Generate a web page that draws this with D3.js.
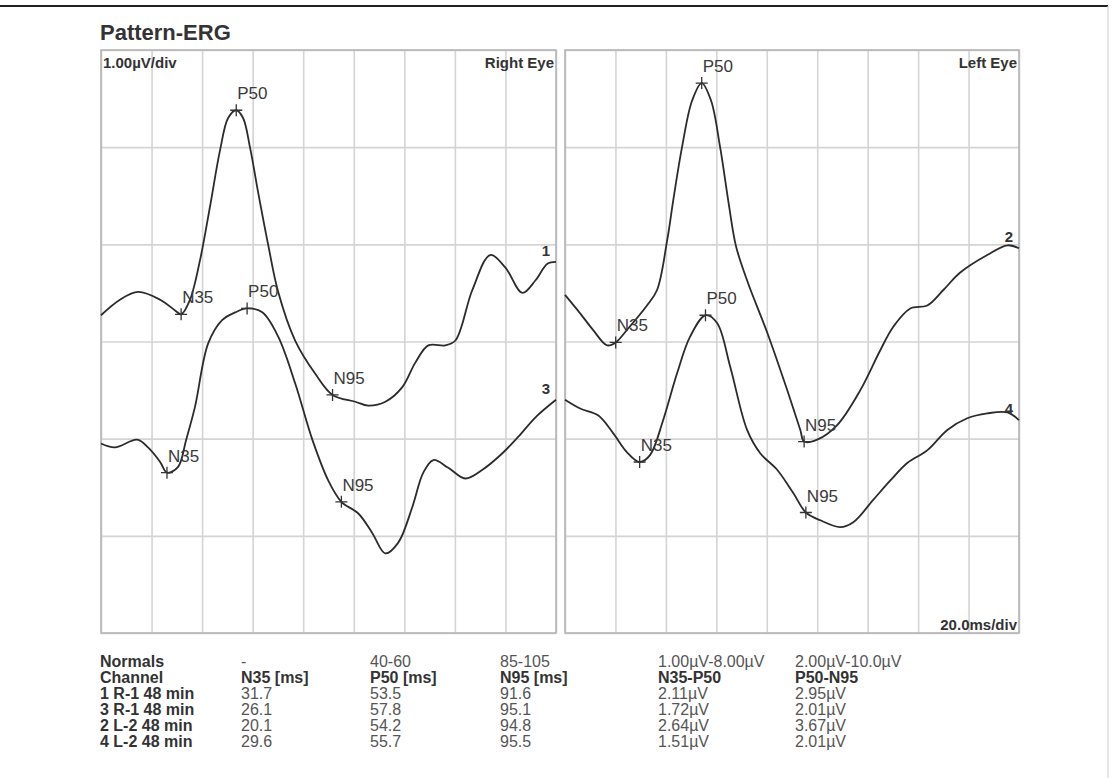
<!DOCTYPE html>
<html>
<head>
<meta charset="utf-8">
<script src="https://cdn.jsdelivr.net/npm/d3@7"></script>
<style>
  body { margin: 0; background: #fff; }
  text { font-family: "Liberation Sans", Arial, sans-serif; fill: #333; }
</style>
</head>
<body>
<div id="erg"></div>
<script>
// time axis 0-180 ms (20 ms/div), amplitude 0-6 uV (1 uV/div)
var msTicks = [0, 20, 40, 60, 80, 100, 120, 140, 160, 180];
var uvTicks = [0, 1, 2, 3, 4, 5, 6];

// traces: [ms, uV]
var trace1 = [[0,3.27],[7.5,3.43],[14.7,3.51],[23.4,3.43],[29.3,3.32],[31.7,3.28],[35.2,3.43],[39.2,3.84],[43.2,4.40],[47.1,4.97],[50.3,5.30],[53.5,5.38],[56.2,5.30],[59.0,4.99],[62.2,4.53],[66.1,4.00],[70.0,3.52],[76.8,3.01],[84.7,2.67],[91.6,2.45],[100.6,2.38],[105.7,2.34],[112.5,2.38],[119.2,2.53],[124.3,2.78],[129.5,2.96],[136.2,2.96],[140.2,3.01],[146.9,3.53],[154.0,3.89],[160.0,3.76],[166.7,3.50],[171.9,3.63],[176.6,3.80],[180,3.82]];
var trace3 = [[0,1.95],[5.5,1.91],[14.3,1.99],[18.6,1.91],[23.4,1.76],[26.1,1.65],[30.5,1.71],[33.7,1.99],[37.2,2.33],[42.4,2.98],[47.9,3.22],[53.1,3.30],[57.8,3.34],[63.8,3.30],[70.1,3.05],[76.8,2.57],[83.6,1.99],[89.9,1.57],[95.1,1.35],[101.8,1.23],[107.3,1.03],[112.5,0.82],[117.6,0.93],[123.2,1.30],[127.5,1.65],[131.5,1.78],[137.4,1.70],[144.1,1.59],[150.9,1.68],[158.8,1.85],[165.1,2.02],[171.9,2.22],[180,2.40]];
var trace2 = [[0,3.48],[6.0,3.29],[11.1,3.12],[16.7,2.96],[20.1,2.99],[24.6,3.12],[32.5,3.37],[36.5,3.53],[40.5,4.04],[42.9,4.45],[46.4,5.00],[50.4,5.48],[54.2,5.66],[57.9,5.48],[61.5,5.00],[64.9,4.42],[67.8,3.98],[72.6,3.60],[80.2,3.09],[88.1,2.50],[93.3,2.09],[94.8,1.97],[100.0,1.99],[107.9,2.14],[117.1,2.50],[125.0,2.91],[130.1,3.15],[136.9,3.34],[143.6,3.37],[150.0,3.53],[156.7,3.71],[167.4,3.89],[175.4,3.99],[180,3.96]];
var trace4 = [[0,2.40],[6.0,2.31],[13.1,2.24],[19.0,2.06],[24.6,1.86],[29.6,1.76],[33.7,1.83],[38.9,2.19],[44.4,2.67],[49.6,3.05],[55.7,3.27],[60.3,3.19],[65.5,2.74],[72.2,2.09],[77.4,1.85],[84.1,1.68],[90.5,1.44],[95.5,1.24],[101.2,1.16],[109.1,1.09],[114.3,1.14],[122.2,1.37],[129.0,1.57],[135.7,1.75],[143.6,1.88],[151.6,2.09],[159.5,2.21],[167.4,2.26],[175.4,2.27],[180,2.19]];

// peak markers: [label, ms, uV]
var markers1 = [["N35",31.7,3.28],["P50",53.5,5.38],["N95",91.6,2.45]];
var markers3 = [["N35",26.1,1.65],["P50",57.8,3.34],["N95",95.1,1.35]];
var markers2 = [["N35",20.1,2.99],["P50",54.2,5.66],["N95",94.8,1.97]];
var markers4 = [["N35",29.6,1.76],["P50",55.7,3.27],["N95",95.5,1.24]];

// results table
var rowHeads = ["Normals", "Channel", "1 R-1 48 min", "3 R-1 48 min", "2 L-2 48 min", "4 L-2 48 min"];
var normals = ["-", "40-60", "85-105", "1.00\u00b5V-8.00\u00b5V", "2.00\u00b5V-10.0\u00b5V"];
var columns = ["N35 [ms]", "P50 [ms]", "N95 [ms]", "N35-P50", "P50-N95"];
var n35 = ["31.7", "26.1", "20.1", "29.6"];
var p50 = ["53.5", "57.8", "54.2", "55.7"];
var n95 = ["91.6", "95.1", "94.8", "95.5"];
var n35p50 = ["2.11\u00b5V", "1.72\u00b5V", "2.64\u00b5V", "1.51\u00b5V"];
var p50n95 = ["2.95\u00b5V", "2.01\u00b5V", "3.67\u00b5V", "2.01\u00b5V"];

var width = 1114, height = 778;
var plotTop = 50, plotBottom = 633;

var svg = d3.select("#erg").append("svg")
    .attr("width", width)
    .attr("height", height);

svg.append("rect").attr("width", width).attr("height", height).attr("fill", "#fff");

// frame
svg.append("line").attr("x1", 0).attr("x2", 1108).attr("y1", 6).attr("y2", 6)
    .attr("stroke", "#222").attr("stroke-width", 2);
svg.append("line").attr("x1", 1108).attr("x2", 1108).attr("y1", 6).attr("y2", height)
    .attr("stroke", "#ccc").attr("stroke-width", 1);

svg.append("text")
    .attr("x", 100).attr("y", 40)
    .style("font-size", "22px").style("font-weight", "bold")
    .text("Pattern-ERG");

var y = d3.scaleLinear().domain([0, 6]).range([plotBottom, plotTop]);

function drawPanel(x0, x1, eye, traces) {
  var x = d3.scaleLinear().domain([0, 180]).range([x0, x1]);
  var g = svg.append("g");

  // grid from the axes
  g.append("g")
      .attr("transform", "translate(0," + plotBottom + ")")
      .call(d3.axisBottom(x).tickValues(msTicks).tickSize(-(plotBottom - plotTop)).tickFormat(""));
  g.append("g")
      .attr("transform", "translate(" + x0 + ",0)")
      .call(d3.axisLeft(y).tickValues(uvTicks).tickSize(-(x1 - x0)).tickFormat(""));
  g.selectAll(".domain").remove();
  g.selectAll(".tick line").attr("stroke", "#d4d4d4").attr("stroke-width", 1.6);

  g.append("rect")
      .attr("x", x0).attr("y", plotTop)
      .attr("width", x1 - x0).attr("height", plotBottom - plotTop)
      .attr("fill", "none").attr("stroke", "#b5b5b5").attr("stroke-width", 1.6);

  var line = d3.line()
      .x(function(d) { return x(d[0]); })
      .y(function(d) { return y(d[1]); })
      .curve(d3.curveCatmullRom.alpha(0.5));

  traces.forEach(function(t) {
    g.append("path")
        .datum(t.data)
        .attr("d", line)
        .attr("fill", "none")
        .attr("stroke", "#2b2b2b")
        .attr("stroke-width", 1.8);

    t.markers.forEach(function(m) {
      var mx = x(m[1]), my = y(m[2]);
      g.append("path")
          .attr("d", "M" + (mx - 6) + "," + my + "H" + (mx + 6) + "M" + mx + "," + (my - 6) + "V" + (my + 6))
          .attr("stroke", "#333").attr("stroke-width", 1.3);
      g.append("text")
          .attr("x", mx + 1).attr("y", my - 11)
          .style("font-size", "17px").style("fill", "#3a3a3a")
          .text(m[0]);
    });

    var last = t.data[t.data.length - 1];
    g.append("text")
        .attr("x", x1 - 6).attr("y", y(last[1]) - 6)
        .attr("text-anchor", "end")
        .style("font-size", "15px").style("font-weight", "bold")
        .text(t.name);
  });

  g.append("text")
      .attr("x", x1 - 2).attr("y", plotTop + 18)
      .attr("text-anchor", "end")
      .style("font-size", "15px").style("font-weight", "bold")
      .text(eye);
  return x;
}

drawPanel(101, 556, "Right Eye", [
  {name: "1", data: trace1, markers: markers1},
  {name: "3", data: trace3, markers: markers3}
]);
drawPanel(565, 1019, "Left Eye", [
  {name: "2", data: trace2, markers: markers2},
  {name: "4", data: trace4, markers: markers4}
]);

svg.append("text").attr("x", 103).attr("y", plotTop + 18)
    .style("font-size", "15px").style("font-weight", "bold")
    .text("1.00\u00b5V/div");
svg.append("text").attr("x", 1017).attr("y", plotBottom - 3)
    .attr("text-anchor", "end")
    .style("font-size", "15px").style("font-weight", "bold")
    .text("20.0ms/div");

// table
var colX = [100, 241, 370, 500, 658, 795];
var rowY = d3.scaleLinear().domain([0, 1]).range([667, 683]);
var tbl = svg.append("g").style("font-size", "16px");

tbl.selectAll("text.head").data(rowHeads).enter().append("text")
    .attr("x", colX[0]).attr("y", function(d, i) { return rowY(i); })
    .style("font-weight", "bold")
    .text(function(d) { return d; });

tbl.selectAll("text.norm").data(normals).enter().append("text")
    .attr("x", function(d, i) { return colX[i + 1]; }).attr("y", rowY(0))
    .style("fill", "#555")
    .text(function(d) { return d; });

tbl.selectAll("text.col").data(columns).enter().append("text")
    .attr("x", function(d, i) { return colX[i + 1]; }).attr("y", rowY(1))
    .style("font-weight", "bold")
    .text(function(d) { return d; });

[n35, p50, n95, n35p50, p50n95].forEach(function(col, c) {
  tbl.selectAll("text.v" + c).data(col).enter().append("text")
      .attr("x", colX[c + 1]).attr("y", function(d, i) { return rowY(i + 2); })
      .style("fill", "#555")
      .text(function(d) { return d; });
});
</script>
</body>
</html>
